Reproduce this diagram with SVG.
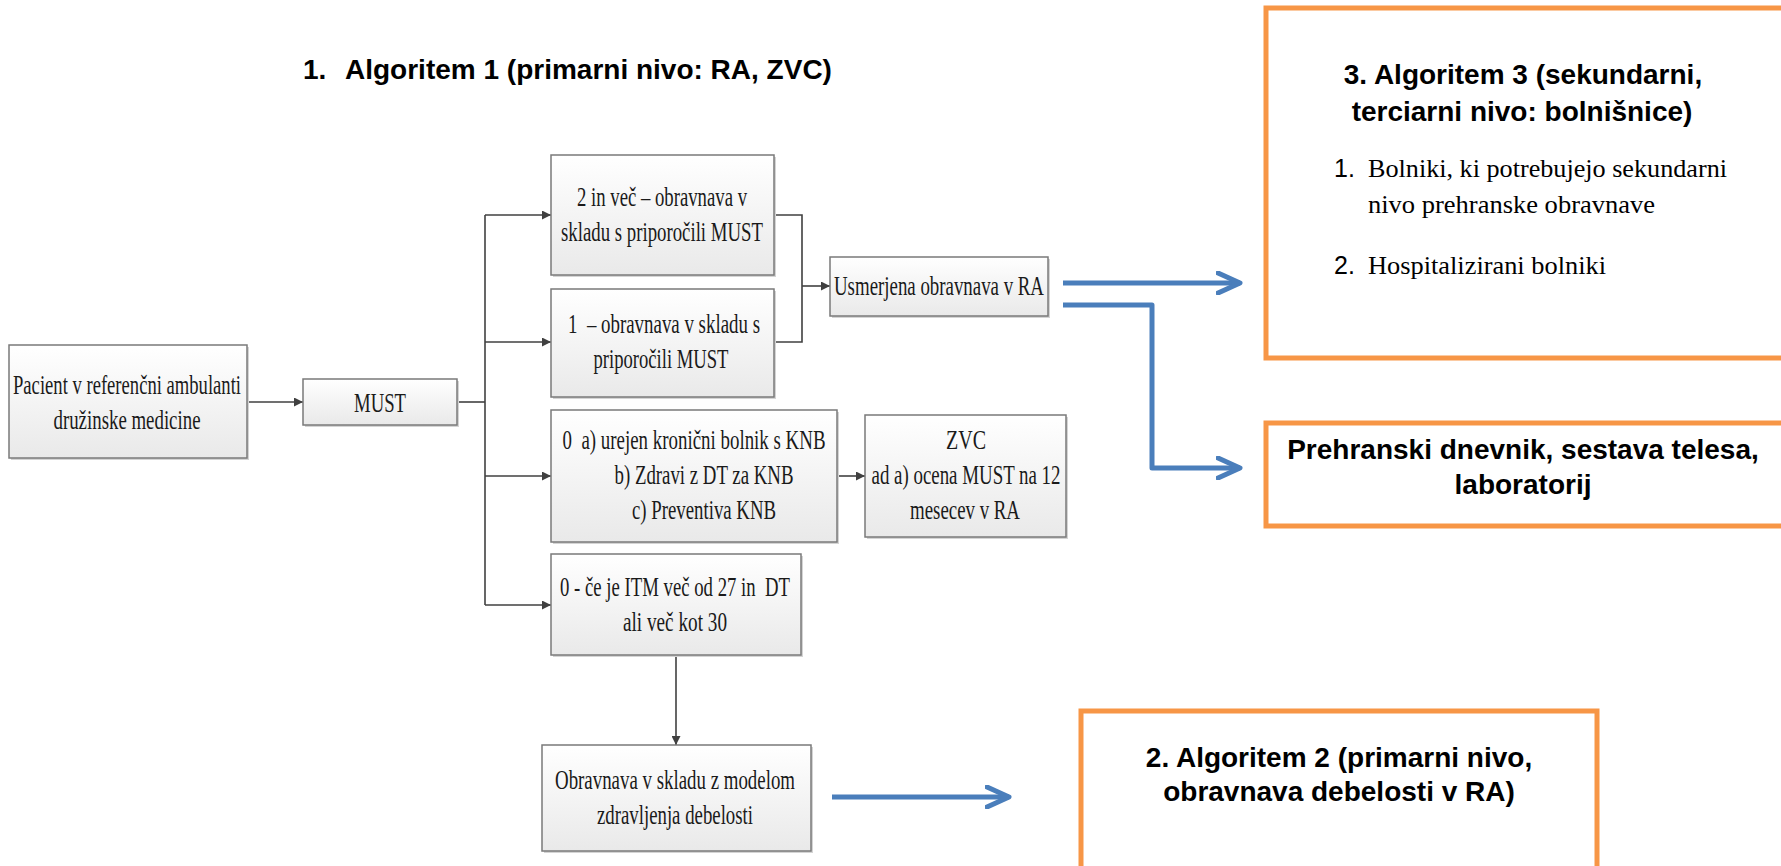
<svg xmlns="http://www.w3.org/2000/svg" width="1781" height="866" viewBox="0 0 1781 866">
<defs>
<linearGradient id="boxfill" x1="0" y1="0" x2="0" y2="1">
<stop offset="0" stop-color="#ffffff"/>
<stop offset="1" stop-color="#e9e9e9"/>
</linearGradient>
<marker id="ah" viewBox="0 0 10 10" refX="10" refY="5" markerWidth="9" markerHeight="9" markerUnits="userSpaceOnUse" orient="auto">
<path d="M0,0 L10,5 L0,10 z" fill="#404040"/>
</marker>
<marker id="bh" viewBox="-24 -12 28 24" refX="0" refY="0" markerWidth="28" markerHeight="24" markerUnits="userSpaceOnUse" orient="auto">
<path d="M-22,-10 L0,0 L-22,10" fill="none" stroke="#4a7ebb" stroke-width="5" stroke-linecap="round" stroke-linejoin="round"/>
</marker>
</defs>
<style>
.box{fill:url(#boxfill);stroke:#7a7a7a;stroke-width:1.5}
.sh{fill:#d4d4d4}
.t{font-family:"Liberation Serif","Times New Roman",serif;font-size:28px;fill:#1a1a1a;text-anchor:middle}
.h{font-family:"Liberation Sans",Arial,sans-serif;font-size:28px;font-weight:bold;fill:#000;text-anchor:middle}
.ls{font-family:"Liberation Serif","Times New Roman",serif;font-size:26px;fill:#000}
.ln{font-family:"Liberation Sans",Arial,sans-serif;font-size:25px;fill:#000}
.ob{fill:#fff;stroke:#f79646;stroke-width:5}
.c{fill:none;stroke:#404040;stroke-width:1.6}
.b{fill:none;stroke:#4a7ebb;stroke-width:5;stroke-linejoin:round}
</style>

<g id="title1">
<text class="h" x="303" y="79" style="text-anchor:start">1.</text>
<text class="h" x="345" y="79" style="text-anchor:start">Algoritem 1 (primarni nivo: RA, ZVC)</text>
</g>

<g id="connectors">
<line class="c" x1="247" y1="402" x2="303" y2="402" marker-end="url(#ah)"/>
<polyline class="c" points="457,402 485,402"/>
<line class="c" x1="485" y1="215" x2="485" y2="605"/>
<line class="c" x1="485" y1="215" x2="551" y2="215" marker-end="url(#ah)"/>
<line class="c" x1="485" y1="342" x2="551" y2="342" marker-end="url(#ah)"/>
<line class="c" x1="485" y1="476" x2="551" y2="476" marker-end="url(#ah)"/>
<line class="c" x1="485" y1="605" x2="551" y2="605" marker-end="url(#ah)"/>
<polyline class="c" points="774,215 802,215 802,342 774,342"/>
<line class="c" x1="802" y1="286" x2="830" y2="286" marker-end="url(#ah)"/>
<line class="c" x1="837" y1="476" x2="865" y2="476" marker-end="url(#ah)"/>
<line class="c" x1="676" y1="655" x2="676" y2="745" marker-end="url(#ah)"/>
<line class="b" x1="1063" y1="283" x2="1240" y2="283" marker-end="url(#bh)"/>
<polyline class="b" points="1063,305 1152,305 1152,468 1240,468" marker-end="url(#bh)"/>
<line class="b" x1="832" y1="797" x2="1009" y2="797" marker-end="url(#bh)"/>
</g>

<g id="pacient">
<rect class="sh" x="11" y="347" width="238" height="113"/>
<rect class="box" x="9" y="345" width="238" height="113"/>
<text class="t" x="127" y="394" textLength="228" lengthAdjust="spacingAndGlyphs">Pacient v referenčni ambulanti</text>
<text class="t" x="127" y="429" textLength="147" lengthAdjust="spacingAndGlyphs">družinske medicine</text>
</g>

<g id="must">
<rect class="sh" x="305" y="381" width="154" height="46"/>
<rect class="box" x="303" y="379" width="154" height="46"/>
<text class="t" x="380" y="412" textLength="52" lengthAdjust="spacingAndGlyphs">MUST</text>
</g>

<g id="box-2invec">
<rect class="sh" x="553" y="157" width="223" height="120"/>
<rect class="box" x="551" y="155" width="223" height="120"/>
<text class="t" x="662" y="206" textLength="170" lengthAdjust="spacingAndGlyphs">2 in več – obravnava v</text>
<text class="t" x="662" y="241" textLength="202" lengthAdjust="spacingAndGlyphs">skladu s priporočili MUST</text>
</g>

<g id="box-1">
<rect class="sh" x="553" y="291" width="223" height="108"/>
<rect class="box" x="551" y="289" width="223" height="108"/>
<text class="t" x="664" y="333" textLength="192" lengthAdjust="spacingAndGlyphs" xml:space="preserve">1  – obravnava v skladu s</text>
<text class="t" x="661" y="368" textLength="135" lengthAdjust="spacingAndGlyphs">priporočili MUST</text>
</g>

<g id="usmerjena">
<rect class="sh" x="832" y="259" width="218" height="59"/>
<rect class="box" x="830" y="257" width="218" height="59"/>
<text class="t" x="939" y="295" textLength="210" lengthAdjust="spacingAndGlyphs">Usmerjena obravnava v RA</text>
</g>

<g id="box-0a">
<rect class="sh" x="553" y="412" width="286" height="132"/>
<rect class="box" x="551" y="410" width="286" height="132"/>
<text class="t" x="694" y="449" textLength="263" lengthAdjust="spacingAndGlyphs" xml:space="preserve">0  a) urejen kronični bolnik s KNB</text>
<text class="t" x="704" y="484" textLength="179" lengthAdjust="spacingAndGlyphs">b) Zdravi z DT za KNB</text>
<text class="t" x="704" y="519" textLength="144" lengthAdjust="spacingAndGlyphs">c) Preventiva KNB</text>
</g>

<g id="zvc">
<rect class="sh" x="867" y="417" width="201" height="122"/>
<rect class="box" x="865" y="415" width="201" height="122"/>
<text class="t" x="966" y="449" textLength="40" lengthAdjust="spacingAndGlyphs">ZVC</text>
<text class="t" x="966" y="484" textLength="189" lengthAdjust="spacingAndGlyphs">ad a) ocena MUST na 12</text>
<text class="t" x="965" y="519" textLength="110" lengthAdjust="spacingAndGlyphs">mesecev v RA</text>
</g>

<g id="box-0itm">
<rect class="sh" x="553" y="556" width="250" height="101"/>
<rect class="box" x="551" y="554" width="250" height="101"/>
<text class="t" x="675" y="596" textLength="230" lengthAdjust="spacingAndGlyphs" xml:space="preserve">0 - če je ITM več od 27 in  DT</text>
<text class="t" x="675" y="631" textLength="104" lengthAdjust="spacingAndGlyphs">ali več kot 30</text>
</g>

<g id="obravnava">
<rect class="sh" x="544" y="747" width="269" height="106"/>
<rect class="box" x="542" y="745" width="269" height="106"/>
<text class="t" x="675" y="789" textLength="240" lengthAdjust="spacingAndGlyphs">Obravnava v skladu z modelom</text>
<text class="t" x="675" y="824" textLength="156" lengthAdjust="spacingAndGlyphs">zdravljenja debelosti</text>
</g>

<g id="algoritem3">
<rect class="ob" x="1266" y="8" width="522" height="350"/>
<text class="h" x="1523" y="84">3. Algoritem 3 (sekundarni,</text>
<text class="h" x="1522" y="121">terciarni nivo: bolnišnice)</text>
<text class="ln" x="1334" y="177">1.</text>
<text class="ls" x="1368" y="177" textLength="359" lengthAdjust="spacingAndGlyphs">Bolniki, ki potrebujejo sekundarni</text>
<text class="ls" x="1368" y="213" textLength="287" lengthAdjust="spacingAndGlyphs">nivo prehranske obravnave</text>
<text class="ln" x="1334" y="274">2.</text>
<text class="ls" x="1368" y="274" textLength="238" lengthAdjust="spacingAndGlyphs">Hospitalizirani bolniki</text>
</g>

<g id="prehranski">
<rect class="ob" x="1266" y="423" width="522" height="103"/>
<text class="h" x="1523" y="459">Prehranski dnevnik, sestava telesa,</text>
<text class="h" x="1523" y="494">laboratorij</text>
</g>

<g id="algoritem2">
<rect class="ob" x="1081" y="711" width="516" height="170"/>
<text class="h" x="1339" y="767">2. Algoritem 2 (primarni nivo,</text>
<text class="h" x="1339" y="801">obravnava debelosti v RA)</text>
</g>
</svg>
